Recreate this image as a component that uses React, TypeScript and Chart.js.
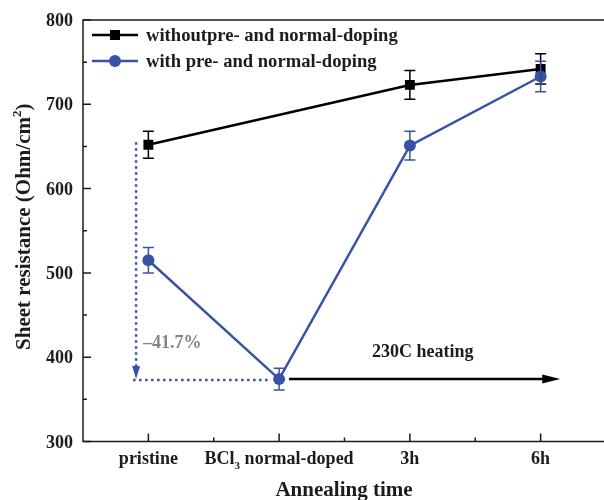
import React, { useEffect, useRef } from 'react';
import { Chart, registerables } from 'chart.js';

Chart.register(...registerables);

// ---- data ----
const categories = ['pristine', 'BCl\u2083 normal-doped', '3h', '6h'];
const seriesNames = ['withoutpre- and normal-doping', 'with pre- and normal-doping'];
const withoutValues: (number | null)[] = [652, null, 723, 742];
const withoutErrors: (number | null)[] = [16, null, 17, 18];
const withValues: number[] = [515, 374, 651, 733];
const withErrors: number[] = [15, 13, 17, 18];
const yTicks = [300, 400, 500, 600, 700, 800];
const yMinorTicks = [350, 450, 550, 650, 750];
const xMinorTicks = [0.5, 1.5, 2.5];
const xTitle = 'Annealing time';
const yTitle = 'Sheet resistance (Ohm/cm\u00B2)';
const dropLabel = '\u201341.7%';
const heatingLabel = '230C heating';

// annotation anchors (data units)
const dropX = -0.094;
const dropTop = 655;
const dropBottom = 373;
const dropEndX = 0.915;
const dropLabelAt = { x: -0.041, y: 416 };
const heatArrow = { x1: 1.076, x2: 3.15, y: 374 };
const heatLabelAt = { x: 2.098, y: 406 };

const BLUE = '#3953a4';
const INK = '#1c1c1c';
const FONT = "'Liberation Serif', 'Times New Roman', serif";

function drawRich(ctx: CanvasRenderingContext2D, text: string, x: number, y: number, size: number, align: 'left' | 'center' | 'right') {
  // supports subscript ₃ and superscript ²
  const parts: { t: string; kind: 'n' | 'sub' | 'sup' }[] = [];
  let buf = '';
  for (const ch of text) {
    if (ch === '\u2083' || ch === '\u00B2') {
      if (buf) parts.push({ t: buf, kind: 'n' });
      buf = '';
      parts.push({ t: ch === '\u2083' ? '3' : '2', kind: ch === '\u2083' ? 'sub' : 'sup' });
    } else buf += ch;
  }
  if (buf) parts.push({ t: buf, kind: 'n' });
  const small = Math.round(size * 0.62);
  let total = 0;
  const widths = parts.map((p) => {
    ctx.font = `bold ${p.kind === 'n' ? size : small}px ${FONT}`;
    const w = ctx.measureText(p.t).width;
    total += w;
    return w;
  });
  let cx = align === 'left' ? x : align === 'center' ? x - total / 2 : x - total;
  ctx.textAlign = 'left';
  parts.forEach((p, i) => {
    ctx.font = `bold ${p.kind === 'n' ? size : small}px ${FONT}`;
    const dy = p.kind === 'sub' ? size * 0.28 : p.kind === 'sup' ? -size * 0.42 : 0;
    ctx.fillText(p.t, cx, y + dy);
    cx += widths[i];
  });
}

const customPlugin = {
  id: 'customDraw',
  afterDatasetsDraw(chart: any) {
    const ctx: CanvasRenderingContext2D = chart.ctx;
    const xs = chart.scales.x;
    const ys = chart.scales.y;
    const sets = [
      { vals: withoutValues, errs: withoutErrors, color: '#000' },
      { vals: withValues, errs: withErrors, color: BLUE },
    ];
    ctx.save();
    sets.forEach((s) => {
      ctx.strokeStyle = s.color;
      ctx.lineWidth = 1.5;
      s.vals.forEach((v, i) => {
        const e = s.errs[i];
        if (v == null || e == null) return;
        const px = xs.getPixelForValue(i);
        const yTop = ys.getPixelForValue(v + e);
        const yBot = ys.getPixelForValue(v - e);
        ctx.beginPath();
        ctx.moveTo(px, yTop);
        ctx.lineTo(px, yBot);
        ctx.moveTo(px - 5.5, yTop);
        ctx.lineTo(px + 5.5, yTop);
        ctx.moveTo(px - 5.5, yBot);
        ctx.lineTo(px + 5.5, yBot);
        ctx.stroke();
      });
    });
    ctx.restore();
  },
  afterDraw(chart: any) {
    const ctx: CanvasRenderingContext2D = chart.ctx;
    const xs = chart.scales.x;
    const ys = chart.scales.y;
    const area = chart.chartArea;
    ctx.save();

    // frame: left axis, bottom axis, top border
    ctx.strokeStyle = INK;
    ctx.lineWidth = 1.5;
    ctx.beginPath();
    ctx.moveTo(area.right, area.top);
    ctx.lineTo(area.left, area.top);
    ctx.lineTo(area.left, area.bottom);
    ctx.lineTo(area.right, area.bottom);
    ctx.stroke();

    // x ticks (inward)
    ctx.beginPath();
    categories.forEach((_, i) => {
      const px = xs.getPixelForValue(i);
      ctx.moveTo(px, area.bottom);
      ctx.lineTo(px, area.bottom - 8);
    });
    xMinorTicks.forEach((v) => {
      const px = xs.getPixelForValue(v);
      ctx.moveTo(px, area.bottom);
      ctx.lineTo(px, area.bottom - 4);
    });
    // y ticks (inward)
    yTicks.forEach((v) => {
      const py = ys.getPixelForValue(v);
      ctx.moveTo(area.left, py);
      ctx.lineTo(area.left + 8, py);
    });
    yMinorTicks.forEach((v) => {
      const py = ys.getPixelForValue(v);
      ctx.moveTo(area.left, py);
      ctx.lineTo(area.left + 4, py);
    });
    ctx.stroke();

    // tick labels
    ctx.fillStyle = INK;
    ctx.textBaseline = 'alphabetic';
    yTicks.forEach((v) => {
      const py = ys.getPixelForValue(v);
      drawRich(ctx, String(v), area.left - 10, py + 6, 18, 'right');
    });
    categories.forEach((c, i) => {
      const px = xs.getPixelForValue(i);
      drawRich(ctx, c, px, area.bottom + 22, 18, 'center');
    });

    // axis titles
    drawRich(ctx, xTitle, 344, 496, 21, 'center');
    ctx.save();
    ctx.translate(30, (area.top + area.bottom) / 2 - 4);
    ctx.rotate(-Math.PI / 2);
    drawRich(ctx, yTitle, 0, 0, 21, 'center');
    ctx.restore();

    // legend
    const legendRows = [
      { name: seriesNames[0], color: '#000', marker: 'rect', y: 35 },
      { name: seriesNames[1], color: BLUE, marker: 'circle', y: 61 },
    ];
    legendRows.forEach((r) => {
      ctx.strokeStyle = r.color;
      ctx.fillStyle = r.color;
      ctx.lineWidth = 2.5;
      ctx.beginPath();
      ctx.moveTo(92, r.y);
      ctx.lineTo(138, r.y);
      ctx.stroke();
      ctx.beginPath();
      if (r.marker === 'rect') ctx.rect(110, r.y - 5, 10, 10);
      else ctx.arc(115, r.y, 6, 0, Math.PI * 2);
      ctx.fill();
      ctx.fillStyle = INK;
      ctx.textBaseline = 'middle';
      drawRich(ctx, r.name, 146, r.y + 1, 18.6, 'left');
    });
    ctx.textBaseline = 'alphabetic';

    // drop annotation (dotted blue)
    const dx = xs.getPixelForValue(dropX);
    const dyTop = ys.getPixelForValue(dropTop);
    const dyBot = ys.getPixelForValue(dropBottom);
    const dxEnd = xs.getPixelForValue(dropEndX);
    ctx.strokeStyle = BLUE;
    ctx.lineWidth = 2.5;
    ctx.setLineDash([2.5, 3.5]);
    ctx.beginPath();
    ctx.moveTo(dx, dyTop);
    ctx.lineTo(dx, dyBot - 12);
    ctx.moveTo(dx - 3, dyBot);
    ctx.lineTo(dxEnd, dyBot);
    ctx.stroke();
    ctx.setLineDash([]);
    ctx.fillStyle = BLUE;
    ctx.beginPath();
    ctx.moveTo(dx - 4, dyBot - 14);
    ctx.lineTo(dx + 4, dyBot - 14);
    ctx.lineTo(dx, dyBot - 1);
    ctx.closePath();
    ctx.fill();

    ctx.fillStyle = '#858585';
    ctx.textBaseline = 'middle';
    drawRich(ctx, dropLabel, xs.getPixelForValue(dropLabelAt.x), ys.getPixelForValue(dropLabelAt.y), 18, 'left');

    // heating arrow
    const ax1 = xs.getPixelForValue(heatArrow.x1);
    const ax2 = xs.getPixelForValue(heatArrow.x2);
    const ay = ys.getPixelForValue(heatArrow.y);
    ctx.strokeStyle = '#000';
    ctx.lineWidth = 2.5;
    ctx.beginPath();
    ctx.moveTo(ax1, ay);
    ctx.lineTo(ax2 - 12, ay);
    ctx.stroke();
    ctx.fillStyle = '#000';
    ctx.beginPath();
    ctx.moveTo(ax2, ay);
    ctx.lineTo(ax2 - 18, ay - 4.5);
    ctx.lineTo(ax2 - 18, ay + 4.5);
    ctx.closePath();
    ctx.fill();

    ctx.fillStyle = INK;
    drawRich(ctx, heatingLabel, xs.getPixelForValue(heatLabelAt.x), ys.getPixelForValue(heatLabelAt.y), 18, 'center');
    ctx.restore();
  },
};

export default function App() {
  const ref = useRef<HTMLCanvasElement | null>(null);
  useEffect(() => {
    if (!ref.current) return;
    const chart = new Chart(ref.current, {
      type: 'line',
      data: {
        datasets: [
          {
            label: seriesNames[0],
            data: withoutValues.map((v, i) => ({ x: i, y: v })) as any,
            borderColor: '#000',
            backgroundColor: '#000',
            borderWidth: 2.5,
            pointStyle: 'rect',
            pointRadius: 7,
            pointBorderWidth: 0,
            spanGaps: true,
            order: 2,
          },
          {
            label: seriesNames[1],
            data: withValues.map((v, i) => ({ x: i, y: v })),
            borderColor: BLUE,
            backgroundColor: BLUE,
            borderWidth: 2.5,
            pointStyle: 'circle',
            pointRadius: 6,
            pointBorderWidth: 0,
            order: 1,
          },
        ],
      },
      options: {
        responsive: false,
        animation: false,
        devicePixelRatio: 1,
        layout: { padding: { left: 83, top: 20, right: 14, bottom: 58.5 } },
        plugins: { legend: { display: false }, tooltip: { enabled: false } },
        scales: {
          x: { type: 'linear', min: -0.5, max: 3.5, display: false },
          y: { type: 'linear', min: 300, max: 800, display: false },
        },
      },
      plugins: [customPlugin],
    });
    return () => chart.destroy();
  }, []);
  return (
    <div style={{ position: 'absolute', left: 0, top: 0, width: 604, height: 500, overflow: 'hidden', background: '#fff' }}>
      <canvas ref={ref} width={620} height={500} style={{ width: 620, height: 500, display: 'block' }} />
    </div>
  );
}
